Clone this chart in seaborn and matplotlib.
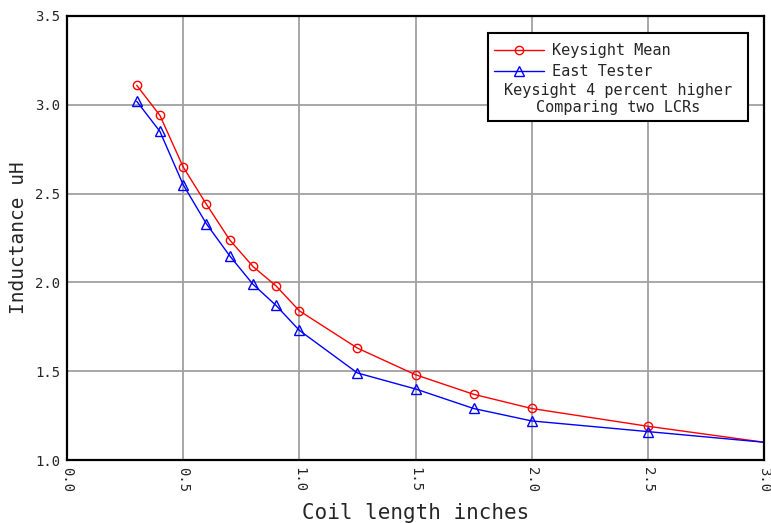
#!/usr/bin/env python3
"""
Inductance vs coil length, two LCR meters compared.
"""
import numpy as np
import pandas as pd
import matplotlib
matplotlib.use('Agg')
import matplotlib.pyplot as plt
from matplotlib.patches import Rectangle
import seaborn as sns

# coil length (inches) and measured inductance (uH)
coil_length = [0.3, 0.4, 0.5, 0.6, 0.7, 0.8, 0.9, 1.0, 1.25, 1.5, 1.75, 2.0, 2.5, 3.0]
keysight_mean = [3.11, 2.94, 2.65, 2.44, 2.24, 2.09, 1.98, 1.84, 1.63, 1.48, 1.37, 1.29, 1.19, 1.10]
east_tester = [3.02, 2.85, 2.55, 2.33, 2.15, 1.99, 1.87, 1.73, 1.49, 1.40, 1.29, 1.22, 1.16, 1.10]

x_ticks = [0.0, 0.5, 1.0, 1.5, 2.0, 2.5, 3.0]
y_ticks = [1.0, 1.5, 2.0, 2.5, 3.0, 3.5]
note_lines = ['Keysight 4 percent higher', 'Comparing two LCRs']

sns.set_style('white')
plt.rcParams['font.family'] = ['DejaVu Sans Mono', 'DejaVu Sans']

fig = plt.figure(figsize=(7.71, 5.23), dpi=100)
ax = fig.add_axes([67 / 771, 1 - 460 / 523, 697 / 771, 444 / 523])

df = pd.DataFrame({'length': coil_length, 'keysight': keysight_mean, 'east': east_tester})

# the point sitting on the right border gets no marker (as in the original)
marks = list(range(len(coil_length) - 1))

sns.lineplot(data=df, x='length', y='keysight', ax=ax, color='#ff0000', linewidth=1.0,
             marker='o', markersize=6, markerfacecolor='none', markeredgecolor='#ff0000',
             markeredgewidth=1.0, markevery=marks, label='Keysight Mean')
sns.lineplot(data=df, x='length', y='east', ax=ax, color='#0000ff', linewidth=1.0,
             marker='^', markersize=7, markerfacecolor='none', markeredgecolor='#0000ff',
             markeredgewidth=1.0, markevery=marks, label='East Tester')

ax.set_xlim(0, 3.0)
ax.set_ylim(1.0, 3.5)
ax.set_xticks(x_ticks)
ax.set_yticks(y_ticks)
ax.set_xticklabels([f'{t:.1f}' for t in x_ticks], rotation=270, fontsize=10)
ax.set_yticklabels([f'{t:.1f}' for t in y_ticks], fontsize=10)
ax.tick_params(direction='in', length=5, width=1.5, color='black', pad=5)

ax.grid(True, color='#a0a0a0', linewidth=1.3)
ax.set_axisbelow(True)
for side in ax.spines.values():
    side.set_color('black')
    side.set_linewidth(1.6)

ax.set_xlabel('Coil length inches', fontsize=15, labelpad=8)
ax.set_ylabel('Inductance uH', fontsize=14, labelpad=5)

# legend box with the two series plus two note lines
handles, labels = ax.get_legend_handles_labels()
ax.legend(handles, labels, loc='upper left', bbox_to_anchor=(0.612, 0.939),
          frameon=False, fontsize=11, borderpad=0, borderaxespad=0,
          handlelength=3.3, handletextpad=0.5, labelspacing=0.4)
ax.add_patch(Rectangle((0.604, 0.764), 0.373, 0.198, transform=ax.transAxes,
                       fill=True, facecolor='white', edgecolor='black',
                       linewidth=1.5, zorder=4))
ax.get_legend().set_zorder(5)
ax.text(0.790, 0.833, note_lines[0], transform=ax.transAxes, ha='center',
        va='center', fontsize=11, zorder=6)
ax.text(0.790, 0.795, note_lines[1], transform=ax.transAxes, ha='center',
        va='center', fontsize=11, zorder=6)

fig.savefig('out.png', dpi=100)
plt.close(fig)
